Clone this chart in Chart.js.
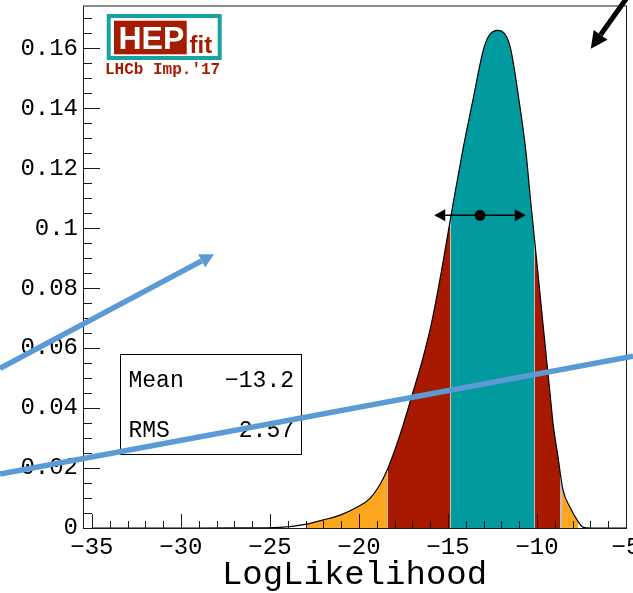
<!DOCTYPE html>
<html>
<head>
<meta charset="utf-8">
<script src="https://cdn.jsdelivr.net/npm/chart.js@4.4.1/dist/chart.umd.min.js"></script>
<style>
  body { margin: 0; background: #fff; }
</style>
</head>
<body>
<canvas id="llChart" width="633" height="593"></canvas>
<script>
// LogLikelihood distribution (x: logL, y: density)
const logL = [-35, -30, -27, -25.5, -24.43, -22.93, -22.0, -21.06, -20.12, -19.38, -18.82, -18.44, -18.16, -17.88, -17.51, -17.13, -16.74, -16.4, -15.9, -15.34, -14.72, -14.17, -13.6, -13.02, -12.74, -12.25, -11.7, -11.46, -11.01, -10.63, -10.36, -9.98, -9.7, -9.42, -9.23, -9.1, -8.82, -8.54, -8.15, -7.75, -7.42, -7, -5];
const density = [0, 0, 0.00002, 0.00008, 0.0002, 0.0013, 0.0027, 0.0043, 0.0069, 0.0099, 0.0145, 0.019, 0.0232, 0.0278, 0.0345, 0.042, 0.0498, 0.0568, 0.069, 0.0865, 0.108, 0.126, 0.1427, 0.1593, 0.1638, 0.166, 0.1638, 0.1593, 0.1427, 0.126, 0.1093, 0.087, 0.0703, 0.0537, 0.0427, 0.035, 0.0237, 0.0127, 0.007, 0.0027, 0.0003, 0, 0];

// probability intervals on logL
const band99 = [-22.9, -7.7];
const band95 = [-18.4, -8.65];
const band68 = [-14.88, -10.12];

// summary statistics
const meanLL = -13.2;
const rmsLL = 2.57;
const markerY = 0.1043;

const xRange = [-35.5, -5];
const yRange = [0, 0.1743];

const mono = '"Liberation Mono", "Courier New", monospace';
const colOrange = '#ffa61f';
const colRed = '#a71a00';
const colTeal = '#009a9f';
const colSeam = '#c4bdb8';

function minusFmt(v) {
  return v < 0 ? '\u2212' + Math.abs(v) : String(v);
}

// horizontal gradient that colours the area under the curve by interval
function bandGradient(context) {
  const chart = context.chart;
  const xs = chart.scales.x;
  if (!chart.chartArea || !xs) return colTeal;
  const w = xs.right - xs.left;
  const g = chart.ctx.createLinearGradient(xs.left, 0, xs.right, 0);
  const off = v => Math.min(1, Math.max(0, (xs.getPixelForValue(v) - xs.left) / w));
  const h = 0.6 / w;
  const clear = 'rgba(255,255,255,0)';
  const edges = [
    [band99[0], clear, colOrange, false],
    [band95[0], colOrange, colRed, true],
    [band68[0], colRed, colTeal, true],
    [band68[1], colTeal, colRed, true],
    [band95[1], colRed, colOrange, true],
    [band99[1], colOrange, clear, false]
  ];
  g.addColorStop(0, clear);
  edges.forEach(e => {
    const o = off(e[0]);
    if (e[3]) {
      g.addColorStop(o - h, e[1]);
      g.addColorStop(o - h, colSeam);
      g.addColorStop(o + h, colSeam);
      g.addColorStop(o + h, e[2]);
    } else {
      g.addColorStop(o, e[1]);
      g.addColorStop(o, e[2]);
    }
  });
  g.addColorStop(1, clear);
  return g;
}

function arrow(ctx, x0, y0, x1, y1, width, color, headLen, headHalf) {
  const dx = x1 - x0, dy = y1 - y0;
  const len = Math.hypot(dx, dy);
  const ux = dx / len, uy = dy / len;
  const bx = x1 - ux * headLen, by = y1 - uy * headLen;
  ctx.strokeStyle = color;
  ctx.fillStyle = color;
  ctx.lineWidth = width;
  ctx.beginPath();
  ctx.moveTo(x0, y0);
  ctx.lineTo(bx, by);
  ctx.stroke();
  if (headLen > 0) {
    ctx.beginPath();
    ctx.moveTo(x1, y1);
    ctx.lineTo(bx - uy * headHalf, by + ux * headHalf);
    ctx.lineTo(bx + uy * headHalf, by - ux * headHalf);
    ctx.closePath();
    ctx.fill();
  }
}

// overlay arrows, given in axis units
const overlays = [
  { from: [-40.16, 0.0533], to: [-28.14, 0.0913], color: '#5b9bd5', width: 5.5, head: 14, half: 7.5 },
  { from: [-40.16, 0.0180], to: [-4.6, 0.0573], color: '#5b9bd5', width: 5.5, head: 0, half: 0 },
  { from: [-4.85, 0.1777], to: [-6.98, 0.1599], color: '#000', width: 5, head: 17, half: 8.5 }
];

const framePlugin = {
  id: 'framePlugin',
  afterDatasetsDraw(chart) {
    const { ctx, chartArea: a } = chart;
    const xs = chart.scales.x, ys = chart.scales.y;
    ctx.save();
    ctx.strokeStyle = '#1a1a1a';
    ctx.lineWidth = 1;
    ctx.strokeRect(a.left + 0.5, a.top + 0.5, a.right - a.left, a.bottom - a.top);

    // inward ticks on x
    ctx.beginPath();
    for (let i = Math.ceil(xRange[0]); i <= xRange[1]; i++) {
      const px = Math.round(xs.getPixelForValue(i)) + 0.5;
      const len = i % 5 === 0 ? 14 : 7;
      ctx.moveTo(px, a.bottom);
      ctx.lineTo(px, a.bottom - len);
    }
    // inward ticks on y
    for (let k = 0; k * 0.005 <= yRange[1]; k++) {
      const py = Math.round(ys.getPixelForValue(k * 0.005)) + 0.5;
      const len = k % 4 === 0 ? 17 : 9;
      ctx.moveTo(a.left, py);
      ctx.lineTo(a.left + len, py);
    }
    ctx.stroke();

    // spread of the distribution around the mean
    const my = ys.getPixelForValue(markerY);
    arrow(ctx, xs.getPixelForValue(meanLL), my, xs.getPixelForValue(meanLL - rmsLL), my, 1.5, '#000', 11, 6);
    arrow(ctx, xs.getPixelForValue(meanLL), my, xs.getPixelForValue(meanLL + rmsLL), my, 1.5, '#000', 11, 6);
    ctx.restore();
  },
  afterDraw(chart) {
    const { ctx } = chart;
    const xs = chart.scales.x, ys = chart.scales.y;
    ctx.save();

    // HEPfit logo
    ctx.strokeStyle = '#17a2a4';
    ctx.lineWidth = 4;
    ctx.strokeRect(108.7, 16, 111, 42);
    ctx.fillStyle = '#a51c00';
    ctx.fillRect(114, 20.7, 72.7, 33.6);
    ctx.textBaseline = 'alphabetic';
    ctx.textAlign = 'left';
    ctx.fillStyle = '#fff';
    ctx.font = 'bold 32px "Liberation Sans", Arial, sans-serif';
    ctx.fillText('HEP', 118.5, 48.5);
    ctx.fillStyle = '#a51c00';
    ctx.font = 'bold 24px "Liberation Sans", Arial, sans-serif';
    ctx.fillText('fit', 189.5, 53);
    ctx.font = 'bold 16px ' + mono;
    ctx.fillText("LHCb Imp.'17", 105, 74);

    // statistics box
    ctx.fillStyle = '#fff';
    ctx.fillRect(120.5, 354.5, 181, 100);
    ctx.strokeStyle = '#000';
    ctx.lineWidth = 1;
    ctx.strokeRect(120.5, 354.5, 181, 100);
    ctx.fillStyle = '#000';
    ctx.font = '23px ' + mono;
    ctx.fillText('Mean', 128.5, 387);
    ctx.fillText('RMS', 128.5, 437);
    ctx.textAlign = 'right';
    ctx.fillText(minusFmt(meanLL), 294, 387);
    ctx.fillText(rmsLL.toFixed(2), 294, 437);

    // overlay arrows
    overlays.forEach(o => {
      arrow(ctx,
        xs.getPixelForValue(o.from[0]), ys.getPixelForValue(o.from[1]),
        xs.getPixelForValue(o.to[0]), ys.getPixelForValue(o.to[1]),
        o.width, o.color, o.head, o.half);
    });
    ctx.restore();
  }
};

const curve = logL.map((x, i) => ({ x: x, y: density[i] }));

new Chart(document.getElementById('llChart'), {
  type: 'line',
  data: {
    datasets: [{
      data: [{ x: meanLL, y: markerY }],
      showLine: false,
      pointRadius: 5.5,
      pointBackgroundColor: '#000',
      pointBorderColor: '#000',
      pointBorderWidth: 0
    }, {
      data: curve,
      fill: 'origin',
      backgroundColor: bandGradient,
      borderColor: '#000',
      borderWidth: 1.2,
      pointRadius: 0,
      cubicInterpolationMode: 'monotone'
    }]
  },
  options: {
    responsive: false,
    animation: false,
    devicePixelRatio: 1,
    layout: { padding: { top: 5, right: 7, bottom: 0, left: 0 } },
    plugins: {
      legend: { display: false },
      tooltip: { enabled: false }
    },
    scales: {
      x: {
        type: 'linear',
        min: xRange[0],
        max: xRange[1],
        grid: { display: false, drawTicks: false },
        border: { display: false },
        ticks: {
          stepSize: 5,
          includeBounds: false,
          maxRotation: 0,
          autoSkip: false,
          padding: 5,
          color: '#000',
          font: { family: mono, size: 24 },
          callback: v => minusFmt(v)
        },
        title: {
          display: true,
          text: 'LogLikelihood',
          color: '#000',
          font: { family: mono, size: 34 },
          padding: { top: 0, bottom: -2 }
        },
        afterFit: s => {
          s.height = 65;
          s.paddingLeft = 0;
          s.paddingRight = 0;
        }
      },
      y: {
        min: yRange[0],
        max: yRange[1],
        grid: { display: false, drawTicks: false },
        border: { display: false },
        ticks: {
          stepSize: 0.02,
          includeBounds: false,
          autoSkip: false,
          padding: 5,
          color: '#000',
          font: { family: mono, size: 24 },
          callback: v => String(+v.toFixed(3))
        },
        afterFit: s => {
          s.width = 83;
          s.paddingTop = 0;
          s.paddingBottom = 0;
        }
      }
    }
  },
  plugins: [framePlugin]
});
</script>
</body>
</html>
